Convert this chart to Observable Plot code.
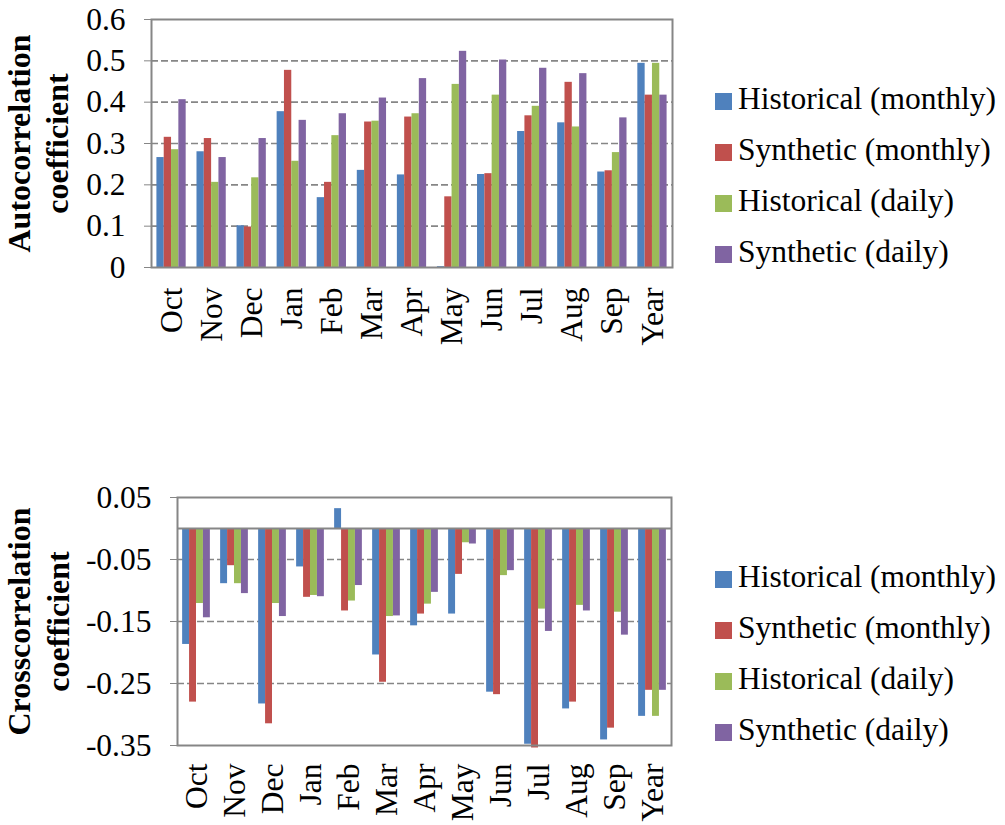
<!DOCTYPE html>
<html><head><meta charset="utf-8">
<script src="https://cdn.jsdelivr.net/npm/d3@7"></script>
<script src="https://cdn.jsdelivr.net/npm/@observablehq/plot@0.6"></script>
<style>
body{margin:0;background:#fff;}
#wrap{position:relative;width:1005px;height:825px;font-family:"Liberation Serif","Times New Roman",serif;background:#fff;}
.chart{position:absolute;left:0;}
.leg{position:absolute;font-size:31.5px;line-height:1;white-space:nowrap;color:#000;}
.sw{position:absolute;width:17px;height:17px;}
</style></head><body><div id="wrap"></div>
<script>
const months = ["Oct","Nov","Dec","Jan","Feb","Mar","Apr","May","Jun","Jul","Aug","Sep","Year"];
const seriesNames = ["Historical (monthly)","Synthetic (monthly)","Historical (daily)","Synthetic (daily)"];
const colors = ["#4F81BD","#C0504D","#9BBB59","#8064A2"];

const autoHistMonthly  = [0.266,0.280,0.101,0.377,0.169,0.235,0.224,0.002,0.225,0.329,0.350,0.231,0.494];
const autoSynMonthly   = [0.315,0.312,0.098,0.477,0.206,0.352,0.364,0.171,0.227,0.367,0.448,0.234,0.417];
const autoHistDaily    = [0.285,0.206,0.217,0.257,0.319,0.354,0.372,0.443,0.417,0.390,0.340,0.278,0.494];
const autoSynDaily     = [0.406,0.266,0.312,0.356,0.372,0.410,0.457,0.523,0.502,0.482,0.469,0.362,0.417];
const autoTicks = [0,0.1,0.2,0.3,0.4,0.5,0.6];

const crossHistMonthly = [-0.187,-0.089,-0.283,-0.062,0.032,-0.204,-0.157,-0.138,-0.264,-0.348,-0.291,-0.341,-0.303];
const crossSynMonthly  = [-0.280,-0.060,-0.315,-0.111,-0.133,-0.248,-0.138,-0.074,-0.268,-0.354,-0.280,-0.322,-0.261];
const crossHistDaily   = [-0.121,-0.089,-0.121,-0.108,-0.117,-0.142,-0.122,-0.023,-0.076,-0.130,-0.124,-0.135,-0.303];
const crossSynDaily    = [-0.144,-0.105,-0.142,-0.110,-0.092,-0.141,-0.103,-0.025,-0.068,-0.166,-0.133,-0.172,-0.261];
const crossTicks = [0.05,-0.05,-0.15,-0.25,-0.35];

const GRID = "#868686";
const fmt = d => String(+(+d).toFixed(2));

function makeChart(o) {
  const W = 1005;
  const plotW = W - o.marginLeft - o.marginRight;
  const pInner = 0.27;
  const barW = (plotW / months.length) * (1 - pInner) / 4;
  const rows = o.arrays.map(arr => months.map((m, i) => ({month: m, value: arr[i]})));
  const marks = [
    Plot.ruleY(o.grid, {stroke: GRID, strokeWidth: 1.6, strokeDasharray: "7,3"}),
    ...rows.map((r, j) => Plot.barY(r, {
      x: "month", y1: 0, y2: "value", fill: colors[j],
      insetLeft: j * barW, insetRight: (3 - j) * barW
    })),
    Plot.frame({stroke: GRID, strokeWidth: 2}),
    Plot.axisY({ticks: o.ticks, tickFormat: fmt, tickSize: 7, tickPadding: 19, stroke: GRID, fill: "black", fontSize: 31.5, label: null}),
    Plot.axisX({tickRotate: -90, tickSize: 0, tickPadding: o.xPad, fill: "black", fontSize: 31.5, label: null}),
    Plot.text([o.title1], {text: d => d, frameAnchor: "left", rotate: -90, textAnchor: "middle", lineAnchor: "middle", dx: o.dx1, fontWeight: "bold", fontSize: 32, fill: "black"}),
    Plot.text([o.title2], {text: d => d, frameAnchor: "left", rotate: -90, textAnchor: "middle", lineAnchor: "middle", dx: o.dx2, fontWeight: "bold", fontSize: 32, fill: "black"})
  ];
  if (o.zero) marks.push(Plot.ruleY([0], {stroke: GRID, strokeWidth: 2}));
  return Plot.plot({
    width: W, height: o.height,
    marginLeft: o.marginLeft, marginRight: o.marginRight,
    marginTop: o.marginTop, marginBottom: o.marginBottom,
    style: {fontFamily: "'Liberation Serif', 'Times New Roman', serif", fontSize: "31.5px", background: "white", overflow: "visible", color: "black"},
    x: {type: "band", domain: months, paddingInner: pInner, paddingOuter: pInner / 2, round: false, axis: null},
    y: {domain: o.yDomain, axis: null},
    marks
  });
}

const wrap = document.getElementById("wrap");

const topChart = makeChart({
  arrays: [autoHistMonthly, autoSynMonthly, autoHistDaily, autoSynDaily],
  yDomain: [0, 0.6], ticks: autoTicks, grid: [0.1,0.2,0.3,0.4,0.5],
  zero: false, height: 400,
  marginLeft: 151, marginRight: 333, marginTop: 19, marginBottom: 133,
  xPad: 20, title1: "Autocorrelation", title2: "coefficient", dx1: -131.5, dx2: -94
});
topChart.classList.add("chart"); topChart.style.top = "0px";
wrap.appendChild(topChart);

const bottomChart = makeChart({
  arrays: [crossHistMonthly, crossSynMonthly, crossHistDaily, crossSynDaily],
  yDomain: [-0.35, 0.05], ticks: crossTicks, grid: [-0.05,-0.15,-0.25],
  zero: true, height: 415,
  marginLeft: 177, marginRight: 334, marginTop: 87, marginBottom: 80,
  xPad: 18, title1: "Crosscorrelation", title2: "coefficient", dx1: -157.5, dx2: -119
});
bottomChart.classList.add("chart"); bottomChart.style.top = "410px";
wrap.appendChild(bottomChart);

function legend(baseline0) {
  seriesNames.forEach((name, j) => {
    const b = baseline0 + j * 51;
    const sw = document.createElement("div");
    sw.className = "sw"; sw.style.left = "715px"; sw.style.top = (b - 16.6) + "px"; sw.style.background = colors[j];
    wrap.appendChild(sw);
    const t = document.createElement("div");
    t.className = "leg"; t.style.left = "738px"; t.style.top = (b - 26.4) + "px"; t.textContent = name;
    wrap.appendChild(t);
  });
}
legend(109.3);
legend(587.3);
</script>
</body></html>
